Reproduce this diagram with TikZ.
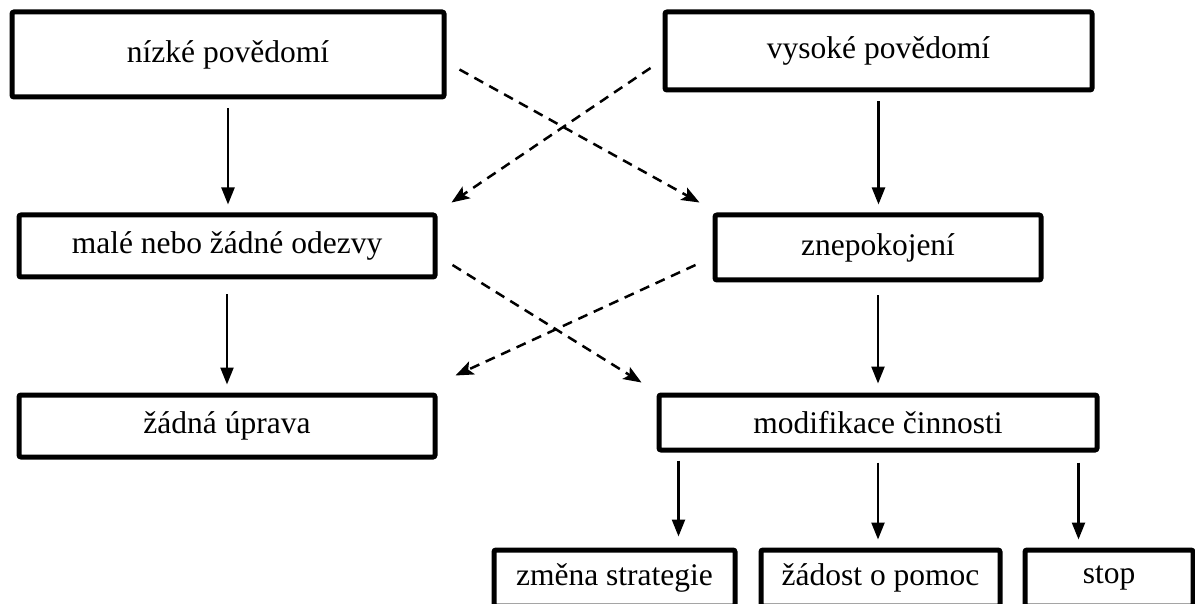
\documentclass[tikz,border=0pt]{standalone}
\usepackage{fontspec}
\setmainfont{Liberation Serif}
\usetikzlibrary{arrows.meta,calc}
\begin{document}
\begin{tikzpicture}[x=1pt,y=-1pt,
  box/.style={draw, line width=5pt, rounded corners=2pt, inner sep=0pt, font=\fontsize{31.5}{38}\selectfont},
  arr/.style={line width=2.4pt, -{Triangle[length=17pt,width=13pt]}},
  darr/.style={line width=2.5pt, dash pattern=on 10pt off 7pt, -{Stealth[length=18pt,width=14pt,inset=4pt]}}]
\useasboundingbox (0,0) rectangle (1195,604);
% boxes
\node[box, minimum width=432pt, minimum height=85pt] (n1) at (228,54.5) {nízké povědomí};
\node[box, minimum width=427pt, minimum height=78pt] (n2) at (878.5,51) {vysoké povědomí};
\node[box, minimum width=416pt, minimum height=62pt] (n3) at (227,246) {malé nebo žádné odezvy\hspace{19pt}};
\node[box, minimum width=326pt, minimum height=65pt] (n4) at (878,247.5) {znepokojení};
\node[box, minimum width=416pt, minimum height=62pt] (n5) at (227,426) {žádná úprava\hspace{16pt}};
\node[box, minimum width=438pt, minimum height=55pt] (n6) at (878,422.5) {modifikace činnosti};
\node[box, minimum width=241pt, minimum height=56pt] (n7) at (614.5,578) {změna strategie};
\node[box, minimum width=239pt, minimum height=56pt] (n8) at (880.5,578) {žádost o pomoc};
\node[box, minimum width=168pt, minimum height=56pt] (n9) at (1109,578) {stop};
% solid arrows
\draw[arr, shorten <=9pt, shorten >=8pt] (n1.south) -- (n1.south |- n3.north);
\draw[arr, shorten <=9pt, shorten >=8pt] (n2.south) -- (n2.south |- n4.north);
\draw[arr, shorten <=15pt, shorten >=8pt] (n3.south) -- (n3.south |- n5.north);
\draw[arr, shorten <=13pt, shorten >=9pt] (n4.south) -- (n4.south |- n6.north);
\coordinate (s1) at ($(n6.south west)+(22,0)$);
\coordinate (s3) at ($(n6.south east)+(-21,0)$);
\draw[arr, shorten <=8pt, shorten >=11pt] (s1) -- (s1 |- n7.north);
\draw[arr, shorten <=10pt, shorten >=8pt] (n6.south) -- (n6.south |- n8.north);
\draw[arr, shorten <=10pt, shorten >=8pt] (s3) -- (s3 |- n9.north);
% dashed arrows
\draw[darr] ($(n1.east)+(13,15)$) -- ($(n4.north west)+(-13,-10)$);
\draw[darr] ($(n2.west)+(-12,17)$) -- ($(n3.north east)+(14,-10)$);
\draw[darr] ($(n3.east)+(15,19)$) -- ($(n6.north west)+(-15,-10)$);
\draw[darr] ($(n4.west)+(-17,17.5)$) -- ($(n5.north east)+(18,-17)$);
\end{tikzpicture}
\end{document}
